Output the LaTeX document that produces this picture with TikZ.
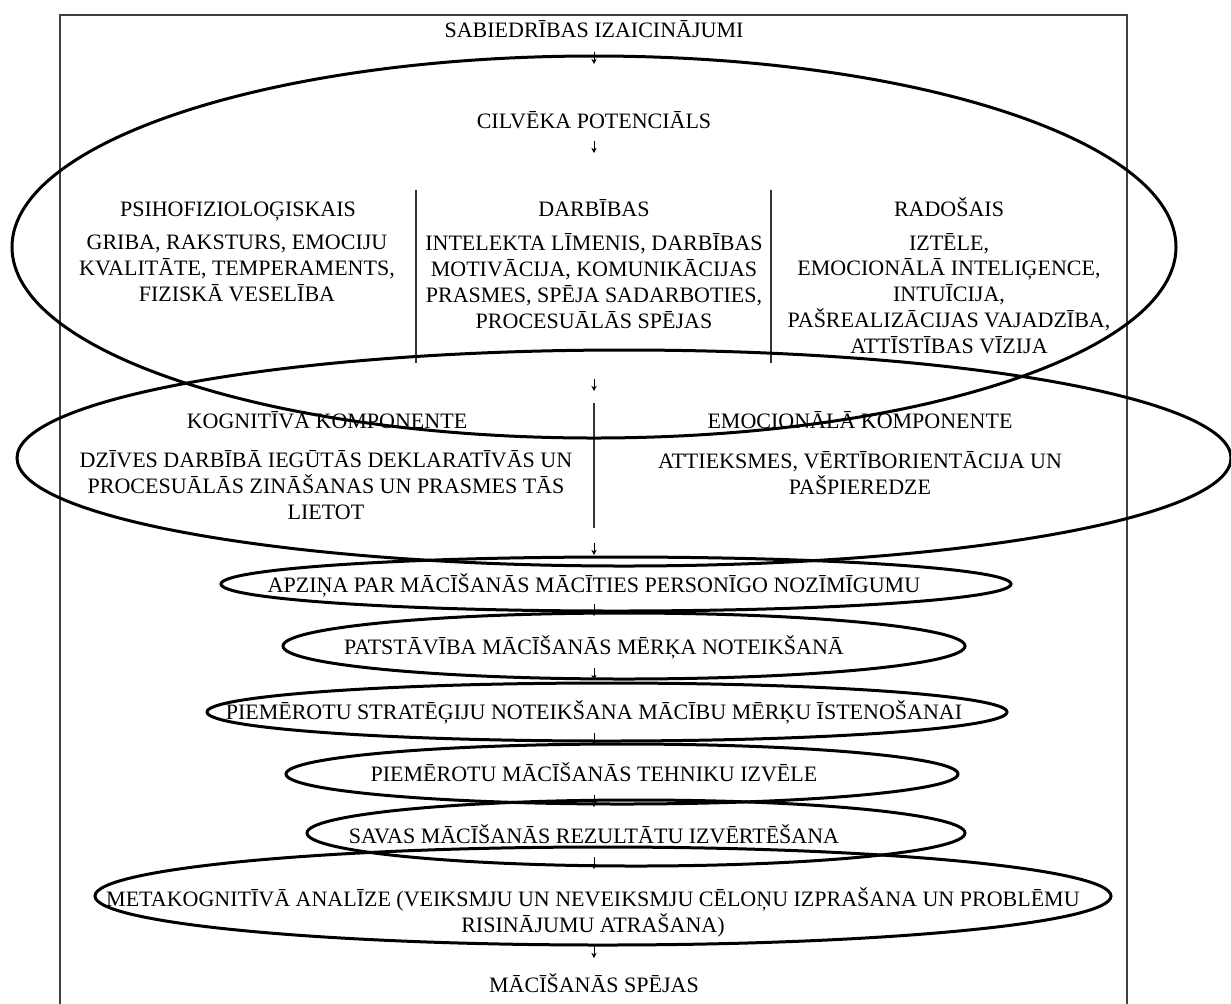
\documentclass[tikz,border=0pt]{standalone}
\usepackage{fontspec}
\setmainfont{Liberation Serif}
\usetikzlibrary{arrows.meta}

\tikzset{
    lbl/.style={inner sep=0pt, align=center,
        font=\fontsize{11}{12.9}\selectfont,
        execute at begin node=\strut, execute at end node=\strut},
    ring/.style={line width=1.5pt},
    arr/.style={-{Stealth[length=2.6pt,width=2.6pt]}, line width=0.4pt},
    divider/.style={line width=0.6pt, black!80},
    frame/.style={line width=0.6pt, black!75}
}

\begin{document}
\begin{tikzpicture}[x=0.5pt,y=-0.5pt]
        \useasboundingbox (0,0) rectangle (1231,1003);

        % frame
        \draw[frame] (60,1010) -- (60,15) -- (1127,15) -- (1127,1010);

        % potential
        % ---------
        \node[lbl] (sab) at (594,32) {SABIEDRĪBAS IZAICINĀJUMI};
        \node[lbl] (cil) at (594,123) {CILVĒKA POTENCIĀLS};

        % columns
        \node[lbl] (psihead) at (238,211) {PSIHOFIZIOLOĢISKAIS};
        \node[lbl] (darbhead) at (594,211) {DARBĪBAS};
        \node[lbl] (radhead) at (949,211) {RADOŠAIS};
        \node[lbl] (psi) at (237,272) {GRIBA, RAKSTURS, EMOCIJU\\KVALITĀTE, TEMPERAMENTS,\\FIZISKĀ VESELĪBA};
        \node[lbl] (darb) at (594,285) {INTELEKTA LĪMENIS, DARBĪBAS\\MOTIVĀCIJA, KOMUNIKĀCIJAS\\PRASMES, SPĒJA SADARBOTIES,\\PROCESUĀLĀS SPĒJAS};
        \node[lbl] (rad) at (949,297) {IZTĒLE,\\EMOCIONĀLĀ INTELIĢENCE,\\INTUĪCIJA,\\PAŠREALIZĀCIJAS VAJADZĪBA,\\ATTĪSTĪBAS VĪZIJA};
        \draw[divider] (416,190) -- (416,363);
        \draw[divider] (771,190) -- (771,363);

        % components
        % ----------
        \node[lbl] (koghead) at (327,423) {KOGNITĪVĀ KOMPONENTE};
        \node[lbl] (emohead) at (860,423) {EMOCIONĀLĀ KOMPONENTE};
        \node[lbl] (kog) at (326,489) {DZĪVES DARBĪBĀ IEGŪTĀS DEKLARATĪVĀS UN\\PROCESUĀLĀS ZINĀŠANAS UN PRASMES TĀS\\LIETOT};
        \node[lbl] (emo) at (860,477) {ATTIEKSMES, VĒRTĪBORIENTĀCIJA UN\\PAŠPIEREDZE};
        \draw[divider] (594,403) -- (594,528);

        % steps
        % -----
        \node[lbl] (apz) at (594,587) {APZIŅA PAR MĀCĪŠANĀS MĀCĪTIES PERSONĪGO NOZĪMĪGUMU};
        \node[lbl] (pat) at (594,649) {PATSTĀVĪBA MĀCĪŠANĀS MĒRĶA NOTEIKŠANĀ};
        \node[lbl] (str) at (594,714) {PIEMĒROTU STRATĒĢIJU NOTEIKŠANA MĀCĪBU MĒRĶU ĪSTENOŠANAI};
        \node[lbl] (teh) at (594,776) {PIEMĒROTU MĀCĪŠANĀS TEHNIKU IZVĒLE};
        \node[lbl] (sav) at (594,838) {SAVAS MĀCĪŠANĀS REZULTĀTU IZVĒRTĒŠANA};
        \node[lbl] (met) at (593,914) {METAKOGNITĪVĀ ANALĪZE (VEIKSMJU UN NEVEIKSMJU CĒLOŅU IZPRAŠANA UN PROBLĒMU\\RISINĀJUMU ATRAŠANA)};
        \node[lbl] (mac) at (594,987) {MĀCĪŠANĀS SPĒJAS};

        % small arrows
        \coordinate (a1) at (594,52);
        \coordinate (a2) at (594,141);
        \coordinate (a3) at (594,379);
        \coordinate (a4) at (594,543);
        \coordinate (a5) at (594,604);
        \coordinate (a6) at (594,668);
        \coordinate (a7) at (594,733);
        \coordinate (a8) at (594,795);
        \coordinate (a9) at (594,857);
        \coordinate (a10) at (594,946);
        \foreach \p in {a1,a2,a3,a4,a5,a6,a7,a8,a9,a10}
            \draw[arr] (\p) -- ++(0,12);

        % ellipses
        \draw[ring] (594,247) ellipse [x radius=582, y radius=191];
        \draw[ring] (624,458) ellipse [x radius=607, y radius=108];
        \draw[ring] (616,584) ellipse [x radius=395, y radius=27];
        \draw[ring] (624,646) ellipse [x radius=341, y radius=33];
        \draw[ring] (607,712) ellipse [x radius=400, y radius=29];
        \draw[ring] (622,774) ellipse [x radius=336, y radius=30];
        \draw[ring] (636,833) ellipse [x radius=329, y radius=33];
        \draw[ring] (603,896) ellipse [x radius=508, y radius=49];

\end{tikzpicture}
\end{document}
